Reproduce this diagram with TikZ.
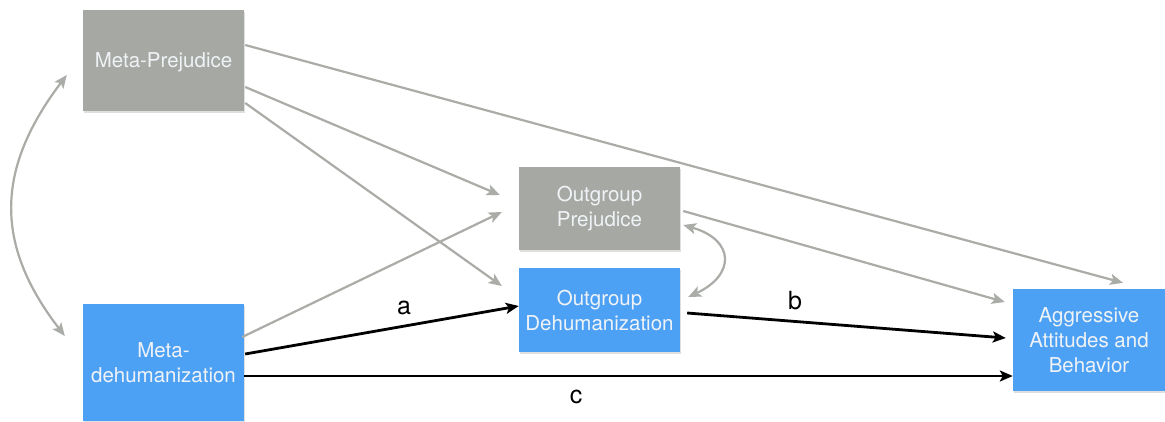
\documentclass[tikz,border=0pt]{standalone}
\usepackage{fontspec}
\setmainfont{TeX Gyre Heros}
\usetikzlibrary{arrows.meta,calc,shadows}
\definecolor{boxgray}{HTML}{A5A8A3}
\definecolor{boxblue}{HTML}{4DA1F5}
\definecolor{linegray}{HTML}{A9ACA7}
\definecolor{boxtxt}{HTML}{F0F3F6}
\begin{document}
\begin{tikzpicture}[x=1pt,y=-1pt,
  box/.style={draw=none, minimum width=161pt, inner sep=0pt, align=center, text=boxtxt,
    font=\fontsize{20.5}{25}\selectfont,
    drop shadow={shadow xshift=1pt, shadow yshift=-1.5pt, opacity=0.25}},
  graybox/.style={box, fill=boxgray},
  bluebox/.style={box, fill=boxblue},
  grayarr/.style={draw=linegray, line width=2.2pt, -{Stealth[length=13pt,width=11pt,inset=3pt]}},
  grayboth/.style={draw=linegray, line width=2.2pt, {Stealth[length=13pt,width=11pt,inset=3pt]}-{Stealth[length=13pt,width=11pt,inset=3pt]}},
  blackarr/.style={draw=black, line width=2.8pt, -{Stealth[length=13pt,width=11pt,inset=3pt]}},
  lbl/.style={font=\fontsize{25}{30}\selectfont, text=black, inner sep=0pt}
]
\useasboundingbox[fill=white] (0,0) rectangle (1165,421);

\node[graybox, minimum height=101pt, text depth=-3pt] (mp) at (163.5,60.5) {Meta-Prejudice};
\node[bluebox, minimum height=117pt] (md) at (163.5,362.5) {Meta-\\dehumanization};
\node[graybox, minimum height=83pt] (op) at (599.5,208.5) {Outgroup\\Prejudice};
\node[bluebox, minimum height=84pt] (od) at (599.5,310) {Outgroup\\Dehumanization};
\node[bluebox, minimum width=152pt, minimum height=102pt] (agg) at (1089,340) {Aggressive\\Attitudes and\\Behavior};

% gray paths
\draw[grayarr] ($(mp.east)+(1,-15.5)$) -- ($(agg.north)+(34,-6)$);
\draw[grayarr] ($(mp.east)+(1,26.5)$) -- ($(op.west)+(-19,-13.5)$);
\draw[grayarr] ($(mp.east)+(1,42.5)$) -- ($(od.west)+(-17,-24)$);
\draw[grayarr] ($(md.east)+(-2,-25.5)$) -- ($(op.west)+(-17,3.5)$);
\draw[grayarr] ($(op.east)+(3,2.5)$) -- ($(agg.west)+(-8,-38)$);

% correlations
\draw[grayboth] ($(mp.west)+(-16,14.5)$) .. controls +(-72,95) and +(-70,-91) .. ($(md.west)+(-18,-26.5)$);
\draw[grayboth] ($(op.east)+(3,16.5)$) .. controls +(52,15) and +(47,-22) .. ($(od.east)+(8,-13)$);

% black paths
\draw[blackarr] ($(md.east)+(1,-8.5)$) -- ($(od.west)+(0,-4)$);
\draw[blackarr] ($(od.east)+(7,3)$) -- ($(agg.west)+(-7,-2)$);
\draw[blackarr] ($(md.east)+(0,13.5)$) -- ($(agg.west)+(0,36)$);

\node[lbl] (la) at (404,308) {a};
\node[lbl] (lb) at (795,301) {b};
\node[lbl] (lc) at (576,397) {c};
\end{tikzpicture}
\end{document}
